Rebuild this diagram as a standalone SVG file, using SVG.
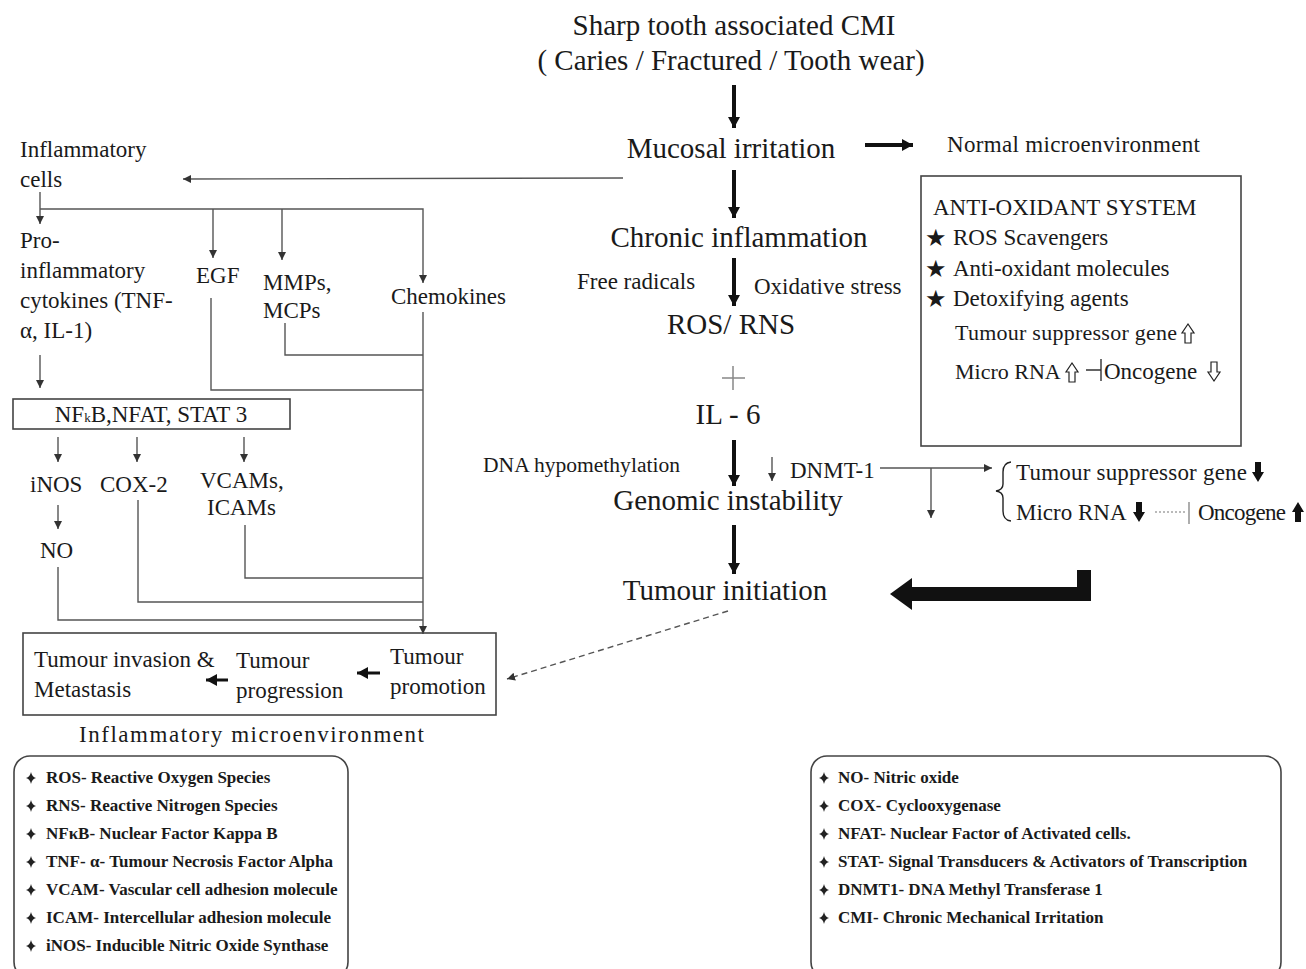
<svg xmlns="http://www.w3.org/2000/svg" xmlns:xlink="http://www.w3.org/1999/xlink" width="1306" height="969" viewBox="0 0 1306 969">
<style>
text{font-family:"Liberation Serif","Times New Roman",serif;fill:#1a1a1a}
.big{font-size:29px}
.mid{font-size:23px}
.sm{font-size:22px}
.leg{font-size:17px;font-weight:bold}
.thin{stroke:#555;stroke-width:1.4;fill:none}
.thick{stroke:#111;stroke-width:4;fill:none}
.box{fill:none;stroke:#444;stroke-width:1.6}
.star{font-family:"DejaVu Sans",sans-serif;font-size:24px}
</style>
<defs>
<marker id="ah" markerUnits="userSpaceOnUse" markerWidth="10" markerHeight="10" refX="8" refY="4" orient="auto"><path d="M0,0 L8,4 L0,8 z" fill="#333"/></marker>
<marker id="ahb" markerUnits="userSpaceOnUse" markerWidth="14" markerHeight="14" refX="11" refY="6" orient="auto"><path d="M0,0 L11,6 L0,12 z" fill="#111"/></marker>
<path id="dia" d="M0,-6 Q1,-1 5,0 Q1,1 0,6 Q-1,1 -5,0 Q-1,-1 0,-6z" fill="#222"/>
<path id="hup" d="M-3,10 L-3,0 L-6,0 L0,-9 L6,0 L3,0 L3,10 z" fill="#fff" stroke="#222" stroke-width="1.2"/>
<path id="bdn" d="M-3,-10 L3,-10 L3,0 L6,0 L0,10 L-6,0 L-3,0 z" fill="#111"/>
</defs>

<g id="connectors">
<line class="thick" x1="734" y1="85" x2="734" y2="128" marker-end="url(#ahb)"/>
<line class="thick" x1="734" y1="170" x2="734" y2="218" marker-end="url(#ahb)"/>
<line class="thick" x1="734" y1="258" x2="734" y2="306" marker-end="url(#ahb)"/>
<line class="thick" x1="734" y1="440" x2="734" y2="486" marker-end="url(#ahb)"/>
<line class="thick" x1="734" y1="525" x2="734" y2="574" marker-end="url(#ahb)"/>
<line class="thick" x1="865" y1="145" x2="913" y2="145" marker-end="url(#ahb)"/>
<line class="thin" x1="623" y1="178" x2="183" y2="179" marker-end="url(#ah)"/>
<line class="thin" x1="40" y1="192" x2="40" y2="224" marker-end="url(#ah)"/>
<polyline class="thin" points="40,209 423,209 423,283" marker-end="url(#ah)"/>
<line class="thin" x1="213" y1="209" x2="213" y2="258" marker-end="url(#ah)"/>
<line class="thin" x1="282" y1="209" x2="282" y2="260" marker-end="url(#ah)"/>
<line class="thin" x1="40" y1="355" x2="40" y2="388" marker-end="url(#ah)"/>
<polyline class="thin" points="211,298 211,390 423,390"/>
<polyline class="thin" points="285,323 285,355 423,355"/>
<line class="thin" x1="423" y1="312" x2="423" y2="634" marker-end="url(#ah)"/>
<polyline class="thin" points="245,525 245,578 423,578"/>
<polyline class="thin" points="138,500 138,602 423,602"/>
<polyline class="thin" points="58,567 58,620 423,620"/>
<line class="thin" x1="58" y1="437" x2="58" y2="462" marker-end="url(#ah)"/>
<line class="thin" x1="137" y1="437" x2="137" y2="462" marker-end="url(#ah)"/>
<line class="thin" x1="244" y1="437" x2="244" y2="462" marker-end="url(#ah)"/>
<line class="thin" x1="58" y1="505" x2="58" y2="529" marker-end="url(#ah)"/>
<line class="thick" style="stroke-width:3" x1="228" y1="680" x2="206" y2="680" marker-end="url(#ahb)"/>
<line class="thick" style="stroke-width:3" x1="380" y1="673" x2="357" y2="673" marker-end="url(#ahb)"/>
<line class="thin" style="stroke-dasharray:6,4" x1="728" y1="611" x2="507" y2="679" marker-end="url(#ah)"/>
<line class="thin" x1="772" y1="457" x2="772" y2="481" marker-end="url(#ah)"/>
<line class="thin" x1="880" y1="468" x2="992" y2="468" marker-end="url(#ah)"/>
<line class="thin" x1="931" y1="468" x2="931" y2="518" marker-end="url(#ah)"/>
<path d="M1011,462 Q1003,463 1003,472 L1003,484 Q1003,490 996,491 Q1003,492 1003,498 L1003,511 Q1003,520 1011,521" class="thin" style="stroke:#222"/>
<line x1="1155" y1="512" x2="1186" y2="512" stroke="#777" stroke-width="1.2" stroke-dasharray="2,2"/>
<line x1="1189" y1="502" x2="1189" y2="524" stroke="#777" stroke-width="1.2"/>
<path d="M1077,570 L1091,570 L1091,601 L912,601 L912,610 L890,594 L912,578 L912,587 L1077,587 z" fill="#111"/>
</g>

<g id="n-top"><text class="big" x="734" y="35" text-anchor="middle">Sharp tooth associated CMI</text>
<text class="big" x="731" y="70" text-anchor="middle">( Caries / Fractured / Tooth wear)</text></g>
<g id="n-mucosal"><text class="big" x="731" y="158" text-anchor="middle">Mucosal irritation</text></g>
<g id="n-normal"><text class="mid" x="947" y="152" textLength="253">Normal microenvironment</text></g>
<g id="n-chronic"><text class="big" x="739" y="247" text-anchor="middle">Chronic inflammation</text></g>
<g id="n-free"><text class="mid" x="577" y="289">Free radicals</text><text class="mid" x="754" y="294">Oxidative stress</text></g>
<g id="n-ros"><text class="big" x="731" y="334" text-anchor="middle">ROS/ RNS</text>
<path d="M722,378 H745 M733,366 V390" stroke="#888" stroke-width="1.5"/>
<text class="big" x="728" y="424" text-anchor="middle">IL - 6</text></g>
<g id="n-dna"><text x="483" y="472" style="font-size:20px" textLength="197" lengthAdjust="spacingAndGlyphs">DNA hypomethylation</text></g>
<g id="n-dnmt"><text class="mid" x="790" y="478">DNMT-1</text></g>
<g id="n-genomic"><text class="big" x="728" y="510" text-anchor="middle">Genomic instability</text></g>
<g id="n-initiation"><text class="big" x="725" y="600" text-anchor="middle">Tumour initiation</text></g>
<g id="n-tsg"><text class="mid" x="1016" y="480" textLength="231">Tumour suppressor gene</text><use xlink:href="#bdn" x="1258" y="472"/>
<text class="mid" x="1016" y="520">Micro RNA</text><use xlink:href="#bdn" x="1139" y="512"/>
<text class="mid" x="1198" y="520" textLength="88">Oncogene</text><use xlink:href="#bdn" transform="translate(1298,512) rotate(180)"/></g>

<g id="n-antiox">
<rect class="box" x="921" y="176" width="320" height="270"/>
<text class="mid" x="933" y="215">ANTI-OXIDANT SYSTEM</text>
<text class="star" x="925" y="246">★</text><text class="mid" x="953" y="245">ROS Scavengers</text>
<text class="star" x="925" y="277">★</text><text class="mid" x="953" y="276">Anti-oxidant molecules</text>
<text class="star" x="925" y="307">★</text><text class="mid" x="953" y="306">Detoxifying agents</text>
<text class="sm" x="955" y="340" textLength="222">Tumour suppressor gene</text><use xlink:href="#hup" x="1188" y="333"/>
<text class="sm" x="955" y="379">Micro RNA</text><use xlink:href="#hup" x="1072" y="372"/>
<path d="M1086,370 H1101 M1101,359 V381" stroke="#333" stroke-width="1.4"/>
<text class="mid" x="1104" y="379">Oncogene</text><use xlink:href="#hup" transform="translate(1214,372) rotate(180)"/>
</g>

<g id="n-inflcells"><text class="mid" x="20" y="157">Inflammatory</text><text class="mid" x="20" y="187">cells</text></g>
<g id="n-proinfl"><text class="mid" x="20" y="248">Pro-</text><text class="mid" x="20" y="278">inflammatory</text><text class="mid" x="20" y="308">cytokines (TNF-</text><text class="mid" x="20" y="338">α, IL-1)</text></g>
<g id="n-egf"><text class="mid" x="196" y="283">EGF</text></g>
<g id="n-mmps"><text class="mid" x="263" y="290">MMPs,</text><text class="mid" x="263" y="318">MCPs</text></g>
<g id="n-chemo"><text class="mid" x="391" y="304">Chemokines</text></g>
<g id="n-nfkb"><rect class="box" x="13" y="399" width="277" height="30"/>
<text class="mid" x="151" y="422" text-anchor="middle">NF<tspan style="font-size:13px">k</tspan>B,NFAT, STAT 3</text></g>
<g id="n-inos"><text class="mid" x="30" y="492">iNOS</text></g>
<g id="n-cox"><text class="mid" x="100" y="492">COX-2</text></g>
<g id="n-vcam"><text class="mid" x="200" y="488">VCAMs,</text><text class="mid" x="207" y="515">ICAMs</text></g>
<g id="n-no"><text class="mid" x="40" y="558">NO</text></g>
<g id="n-infenv">
<rect class="box" x="23" y="633" width="473" height="82"/>
<text class="mid" x="34" y="667">Tumour invasion &amp;</text><text class="mid" x="34" y="697">Metastasis</text>
<text class="mid" x="236" y="668">Tumour</text><text class="mid" x="236" y="698">progression</text>
<text class="mid" x="390" y="664">Tumour</text><text class="mid" x="390" y="694">promotion</text>
<text class="mid" x="79" y="742" textLength="345">Inflammatory microenvironment</text>
</g>

<g id="legend-left">
<rect class="box" x="14" y="756" width="334" height="222" rx="16"/>
<use xlink:href="#dia" x="31" y="778"/><text class="leg" x="46" y="783">ROS- Reactive Oxygen Species</text>
<use xlink:href="#dia" x="31" y="806"/><text class="leg" x="46" y="811">RNS- Reactive Nitrogen Species</text>
<use xlink:href="#dia" x="31" y="834"/><text class="leg" x="46" y="839">NFκB- Nuclear Factor Kappa B</text>
<use xlink:href="#dia" x="31" y="862"/><text class="leg" x="46" y="867">TNF- α- Tumour Necrosis Factor Alpha</text>
<use xlink:href="#dia" x="31" y="890"/><text class="leg" x="46" y="895">VCAM- Vascular cell adhesion molecule</text>
<use xlink:href="#dia" x="31" y="918"/><text class="leg" x="46" y="923">ICAM- Intercellular adhesion molecule</text>
<use xlink:href="#dia" x="31" y="946"/><text class="leg" x="46" y="951">iNOS- Inducible Nitric Oxide Synthase</text>
</g>
<g id="legend-right">
<rect class="box" x="811" y="756" width="470" height="222" rx="16"/>
<use xlink:href="#dia" x="824" y="778"/><text class="leg" x="838" y="783">NO- Nitric oxide</text>
<use xlink:href="#dia" x="824" y="806"/><text class="leg" x="838" y="811">COX- Cyclooxygenase</text>
<use xlink:href="#dia" x="824" y="834"/><text class="leg" x="838" y="839">NFAT- Nuclear Factor of Activated cells.</text>
<use xlink:href="#dia" x="824" y="862"/><text class="leg" x="838" y="867">STAT- Signal Transducers &amp; Activators of Transcription</text>
<use xlink:href="#dia" x="824" y="890"/><text class="leg" x="838" y="895">DNMT1- DNA Methyl Transferase 1</text>
<use xlink:href="#dia" x="824" y="918"/><text class="leg" x="838" y="923">CMI- Chronic Mechanical Irritation</text>
</g>
</svg>
